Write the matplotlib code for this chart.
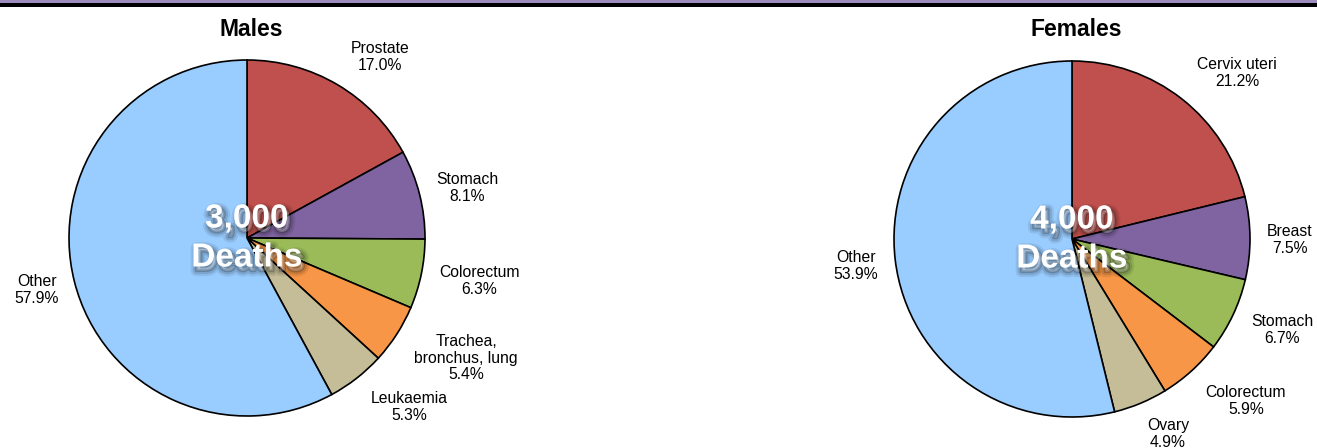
import matplotlib.pyplot as plt
import matplotlib.patheffects as pe

plt.rcParams['font.family'] = ['Liberation Sans', 'DejaVu Sans']

# datos
male_labels = ["Prostate", "Stomach", "Colorectum", "Trachea,\nbronchus, lung", "Leukaemia", "Other"]
male_values = [17.0, 8.1, 6.3, 5.4, 5.3, 57.9]
female_labels = ["Cervix uteri", "Breast", "Stomach", "Colorectum", "Ovary", "Other"]
female_values = [21.2, 7.5, 6.7, 5.9, 4.9, 53.9]
male_total = "3,000"
female_total = "4,000"

colores = ["#C0504D", "#8064A2", "#9BBB59", "#F79646", "#C4BD97", "#99CCFF"]

W, H = 1317, 448
R = 178

# posiciones de las etiquetas en pixeles (centro del texto)
male_pos = [(380, 57), (467, 188), (479, 281), (466, 358), (409, 407), (37, 290)]
female_pos = [(1237, 73), (1290, 240), (1282, 330), (1246, 401), (1168, 434), (856, 266)]

fig = plt.figure(figsize=(W / 100, H / 100), dpi=100)

# barra superior
fig.add_artist(plt.Rectangle((0, 1 - 3.5 / H), 1, 3.5 / H, transform=fig.transFigure,
                             color="#9E8DBF", lw=0))
fig.add_artist(plt.Rectangle((0, 1 - 7 / H), 1, 3.5 / H, transform=fig.transFigure,
                             color="black", lw=0))


def dibujar_pie(cx, cy, valores, etiquetas, posiciones, titulo, total):
    ax = fig.add_axes([(cx - R) / W, (H - cy - R) / H, 2 * R / W, 2 * R / H])
    ax.pie(valores, colors=colores, startangle=90, counterclock=False, radius=1,
           wedgeprops=dict(edgecolor="black", linewidth=1.2))
    ax.set_xlim(-1, 1)
    ax.set_ylim(-1, 1)
    ax.set_aspect("equal")
    ax.axis("off")
    for etq, val, (px, py) in zip(etiquetas, valores, posiciones):
        fig.text(px / W, 1 - py / H, "%s\n%.1f%%" % (etq, val), ha="center", va="center",
                 fontsize=11.3, linespacing=1.1)
    fig.text((cx + 4) / W, 1 - 30 / H, titulo, ha="center", va="center",
             fontsize=16.5, fontweight="bold")
    # sombra difusa
    sombra = [pe.Stroke(offset=(2, -3), linewidth=8, foreground="black", alpha=0.08),
              pe.Stroke(offset=(2, -3), linewidth=5, foreground="black", alpha=0.12),
              pe.Stroke(offset=(2, -3), linewidth=2, foreground="black", alpha=0.2),
              pe.Normal()]
    fig.text(cx / W, 1 - (cy - 19) / H, total, ha="center", va="center", color="white",
             fontsize=24, fontweight="bold", path_effects=sombra)
    fig.text(cx / W, 1 - (cy + 20) / H, "Deaths", ha="center", va="center", color="white",
             fontsize=24, fontweight="bold", path_effects=sombra)


dibujar_pie(247, 238, male_values, male_labels, male_pos, "Males", male_total)
dibujar_pie(1072, 239, female_values, female_labels, female_pos, "Females", female_total)

fig.savefig("out.png", dpi=100)
